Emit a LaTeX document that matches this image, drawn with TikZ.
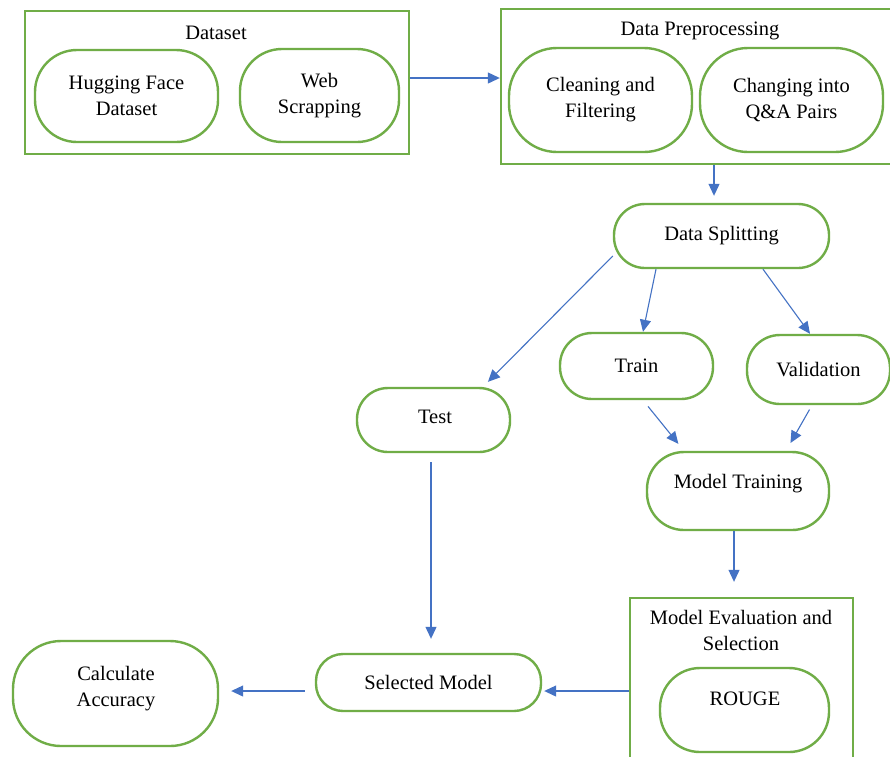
\documentclass[tikz,border=0pt]{standalone}
\usepackage{fontspec}
\setmainfont{Liberation Serif}
\usetikzlibrary{arrows.meta,calc}
\definecolor{boxgreen}{HTML}{70AD47}
\definecolor{arrblue}{HTML}{4472C4}
\begin{document}
\begin{tikzpicture}[x=1pt,y=-1pt,
  every node/.style={font=\fontsize{20.5}{26}\selectfont, align=center, inner sep=0pt},
  rbox/.style={draw=boxgreen, line width=2.4pt, rounded corners=#1},
  rbox/.default=30pt,
  frame/.style={draw=boxgreen, line width=2.4pt},
  arr/.style={draw=arrblue, line width=1.1pt, -{Triangle[length=12pt,width=11pt]}}]
\useasboundingbox (0,0) rectangle (890,756);
\clip (0,0) rectangle (890,756);
\fill[white] (0,0) rectangle (890,756);

% Dataset group
\node[frame, minimum width=384pt, minimum height=143pt] (dsframe) at (217,82.5) {};
\node (dstitle) at (216,33) {Dataset};
\node[rbox=42pt, minimum width=183pt, minimum height=92pt] (hf) at (126.5,96) {Hugging Face\\Dataset};
\node[rbox=42pt, minimum width=159pt, minimum height=93pt] (web) at (319.5,95.5) {Web\\Scrapping};

% Preprocessing group
\node[frame, minimum width=392pt, minimum height=155pt] (prep) at (697,86.5) {};
\node (preptitle) at (700,31) {Data Preprocessing};
\node[rbox=48pt, minimum width=183pt, minimum height=104pt] (clean) at (600.5,100) {Cleaning and\\Filtering};
\node[rbox=48pt, minimum width=183pt, minimum height=104pt] (qa) at (791.5,100) {Changing into\\Q\&A Pairs};

% Splitting
\node[rbox=31pt, minimum width=215pt, minimum height=64pt] (ds) at (721.5,236) {Data Splitting};
\node[rbox=32pt, minimum width=153pt, minimum height=66pt] (train) at (636.5,366) {Train};
\node[rbox=33pt, minimum width=143pt, minimum height=69pt] (val) at (818.5,369.5) {Validation};
\node[rbox=31pt, minimum width=153pt, minimum height=64pt] (test) at (433.5,420) {};
\node (testtext) at (435,417) {Test};

% Model training
\node[rbox=37pt, minimum width=182pt, minimum height=78pt] (mt) at (738,491) {};
\node (mttext) at (738,484) {Model Training};

% Evaluation
\node[frame, minimum width=223pt, minimum height=162pt] (evalf) at (741.5,679) {};
\node (evaltitle) at (741,630) {Model Evaluation and\\Selection};
\node[rbox=40pt, minimum width=169pt, minimum height=84pt] (rouge) at (744.5,710) {};
\node (rougetext) at (745,699) {ROUGE};

% Selected / Accuracy
\node[rbox=27pt, minimum width=225pt, minimum height=57pt] (sel) at (428.5,682.5) {Selected Model};
\node[rbox=48pt, minimum width=205pt, minimum height=105pt] (calc) at (115.5,693.5) {};
\node (calctext) at (116,689) {Calculate\\Accuracy};

% Connectors
\draw[arr] (dsframe.east |- 0,78) -- (prep.west |- 0,78);
\draw[arr, shorten >=7pt] (prep.south -| 714,0) -- (ds.north -| 714,0);
\draw[arr, shorten >=7pt] ($(ds.west)+(0,20)$) -- (test.north -| 483,0);
\draw[arr] (ds.south -| 656,0) -- (train.north -| 643,0);
\draw[arr] (ds.south -| 763,0) -- (val.north -| 810,0);
\draw[arr, shorten <=8pt, shorten >=9pt] (train.south -| 643,0) -- (mt.north -| 684,0);
\draw[arr, shorten <=5pt, shorten >=9pt] (val.south -| 812,0) -- (mt.north -| 786,0);
\draw[arr, shorten >=15pt] (mt.south -| 734,0) -- (evalf.north -| 734,0);
\draw[arr, shorten >=2pt] (evalf.west |- 0,691) -- (sel.east |- 0,691);
\draw[arr, shorten <=9pt, shorten >=14pt] (test.south -| 431,0) -- (sel.north -| 431,0);
\draw[arr, shorten <=10pt, shorten >=12pt] (sel.west |- 0,691) -- (calc.east |- 0,691);
\end{tikzpicture}
\end{document}
